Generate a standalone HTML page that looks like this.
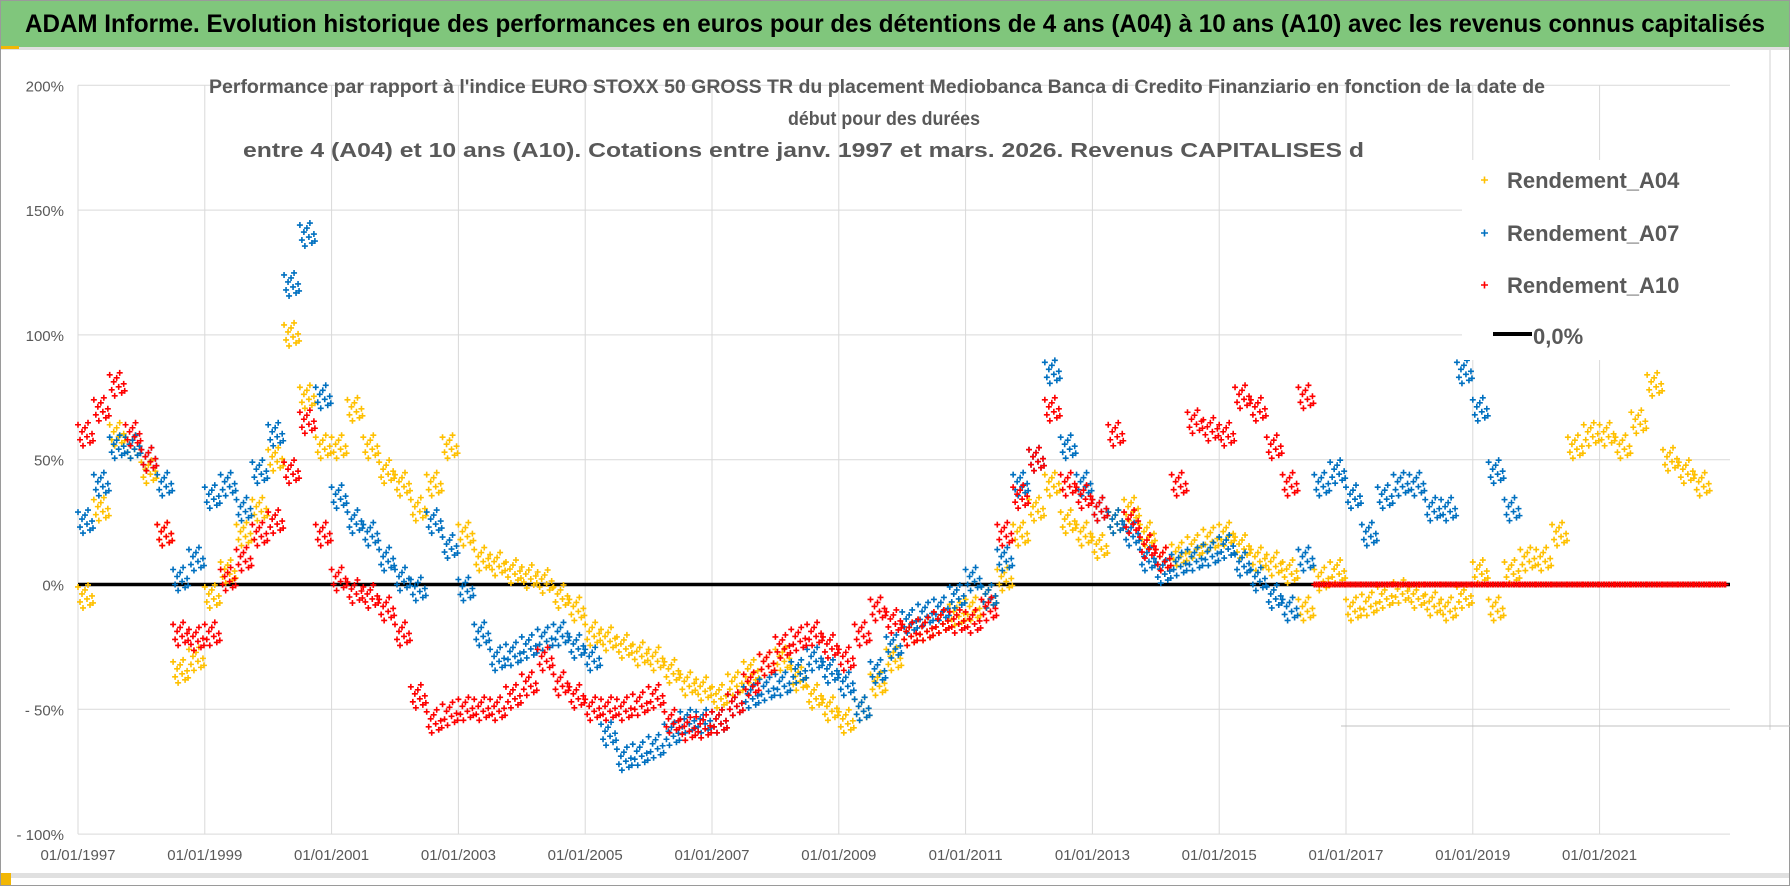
<!DOCTYPE html>
<html><head><meta charset="utf-8"><style>
html,body{margin:0;padding:0;background:#fff;width:1790px;height:886px;overflow:hidden}
svg{display:block;font-family:"Liberation Sans",sans-serif}
</style></head><body>
<svg id="chart" width="1790" height="886" viewBox="0 0 1790 886">
<rect x="0" y="0" width="1790" height="886" fill="#fff"/>
<rect x="0.5" y="0.5" width="1789" height="885" fill="none" stroke="#9a9a9a"/>
<rect x="1" y="1" width="1788" height="46" fill="#80c67c"/>
<rect x="1" y="47" width="1788" height="3" fill="#e0e0e0"/>
<rect x="1" y="46" width="18" height="3" fill="#f2b705"/>
<text x="25" y="32" font-size="25" font-weight="bold" fill="#000" textLength="1740" lengthAdjust="spacingAndGlyphs">ADAM Informe. Evolution historique des performances en euros pour des détentions de 4 ans (A04) à 10 ans (A10) avec les revenus connus capitalisés</text>
<g id="grid"></g>
<line x1="1770" y1="50" x2="1770" y2="730" stroke="#d0d0d0"/>
<line x1="1341" y1="726" x2="1790" y2="726" stroke="#c0c0c0"/>
<g id="yaxis"></g>
<g id="xaxis"></g>
<line id="zero" stroke="#000" stroke-width="3.5"/>
<g id="marks"></g>
<g font-size="19" font-weight="bold" fill="#595959">
<text x="209" y="93" textLength="1336" lengthAdjust="spacingAndGlyphs">Performance par rapport à l'indice EURO STOXX 50 GROSS TR  du placement Mediobanca Banca di Credito Finanziario en fonction de la date de</text>
<text x="788" y="125" textLength="192" lengthAdjust="spacingAndGlyphs">début pour des durées</text>
<text x="243" y="157" font-size="20" textLength="1121" lengthAdjust="spacingAndGlyphs">entre 4 (A04) et 10 ans (A10).  Cotations entre janv. 1997 et mars. 2026. Revenus CAPITALISES d</text>
</g>
<g>
<rect x="1462" y="160" width="300" height="200" fill="#fff"/>
<g><path d="M1481 180h7M1484.5 176.5v7" stroke="#ffc000" stroke-width="1.6"/><text x="1507" y="188" font-size="22" font-weight="bold" fill="#595959">Rendement_A04</text></g>
<g><path d="M1481 233h7M1484.5 229.5v7" stroke="#0070c0" stroke-width="1.6"/><text x="1507" y="241" font-size="22" font-weight="bold" fill="#595959">Rendement_A07</text></g>
<g><path d="M1481 285h7M1484.5 281.5v7" stroke="#ff0000" stroke-width="1.6"/><text x="1507" y="293" font-size="22" font-weight="bold" fill="#595959">Rendement_A10</text></g>
<g><line x1="1493" y1="334" x2="1532" y2="334" stroke="#000" stroke-width="4"/><text x="1533" y="344" font-size="22" font-weight="bold" fill="#595959">0,0%</text></g>
</g>
<rect x="1" y="873" width="1788" height="5" fill="#e0e0e0"/>
<rect x="1" y="873" width="10" height="12" fill="#f2b705"/>
</svg>
<script>
const yTicks=[200,150,100,50,0,-50,-100];
const yTickLabels=["200%","150%","100%","50%","0%","- 50%","- 100%"];
const xTickYears=[1997,1999,2001,2003,2005,2007,2009,2011,2013,2015,2017,2019,2021];
const xTickLabels=["01/01/1997","01/01/1999","01/01/2001","01/01/2003","01/01/2005","01/01/2007","01/01/2009","01/01/2011","01/01/2013","01/01/2015","01/01/2017","01/01/2019","01/01/2021"];
const startYear=1997;
const quarterStep=0.25;
const a04Values=[-5,30,60,55, 45,20,-35,-30, -5,5,20,30, 50,100,75,55, 55,70,55,45, 40,30,40,55, 20,10,8,5, 3,1,-5,-10, -20,-22,-25,-28, -30,-35,-40,-42, -45,-40,-35,-32, -30,-38,-45,-50, -55,-50,-40,-30, -20,-18,-15,-12, -10,-5,2,20, 30,40,25,20, 15,25,30,20, 10,12,15,18, 20,15,10,8, 5,-10,2,5, -10,-8,-5,-3, -5,-8,-10,-5, 5,-10,5,10, 10,20,55,60, 60,55,65,80, 50,45,40];
const a07Values=[25,40,55,55, 50,40,2,10, 35,40,30,45, 60,120,140,75, 35,25,20,10, 2,-2,25,15, -2,-20,-30,-28, -25,-22,-20,-25, -30,-60,-70,-68, -65,-60,-55,-55, -55,-48,-45,-42, -40,-35,-30,-35, -40,-50,-35,-25, -15,-12,-10,-5, 2,-5,10,40, 50,85,55,40, 30,25,20,10, 5,8,10,12, 15,8,2,-5, -10,10,40,45, 35,20,35,40, 40,30,30,85, 70,45,30];
const a10Values=[60,70,80,60, 50,20,-20,-22, -20,2,10,20, 25,45,65,20, 2,-3,-5,-10, -20,-45,-55,-52, -50,-50,-50,-45, -40,-30,-40,-45, -50,-50,-50,-48, -45,-55,-58,-57, -55,-48,-40,-32, -25,-22,-20,-25, -30,-20,-10,-15, -20,-18,-15,-15, -15,-10,20,35, 50,70,40,35, 30,60,25,15, 10,40,65,62, 60,75,70,55, 40,75,0,0, 0,0,0,0, 0,0,0,0, 0,0,0,0, 0,0,0,0, 0,0,0,0, 0,0,0,0];
const NS="http://www.w3.org/2000/svg";
const X0=78,PXY=63.4,Y0=584.5,PXV=2.496,PLOT_L=78,PLOT_R=1730;
function xs(yr){return X0+(yr-1997)*PXY;}
function ys(v){return Y0-v*PXV;}
const grid=document.getElementById('grid');
yTicks.forEach((t,i)=>{
 const l=document.createElementNS(NS,'line');
 l.setAttribute('x1',PLOT_L);l.setAttribute('x2',PLOT_R);l.setAttribute('y1',ys(t));l.setAttribute('y2',ys(t));
 l.setAttribute('stroke','#d9d9d9');
 
 
 grid.appendChild(l);
 const tx=document.createElementNS(NS,'text');
 tx.setAttribute('x',64);tx.setAttribute('y',ys(t)+6);tx.setAttribute('text-anchor','end');
 tx.setAttribute('font-size','15');tx.setAttribute('fill','#595959');tx.textContent=yTickLabels[i];
 
 
 document.getElementById('yaxis').appendChild(tx);
});
xTickYears.forEach((yr,i)=>{
 const l=document.createElementNS(NS,'line');
 l.setAttribute('x1',xs(yr));l.setAttribute('x2',xs(yr));l.setAttribute('y1',ys(200));l.setAttribute('y2',ys(-100));
 l.setAttribute('stroke','#d9d9d9');
 
 
 grid.appendChild(l);
 const tx=document.createElementNS(NS,'text');
 tx.setAttribute('x',xs(yr));tx.setAttribute('y',860);tx.setAttribute('text-anchor','middle');
 tx.setAttribute('font-size','15');tx.setAttribute('fill','#595959');tx.textContent=xTickLabels[i];
 
 
 document.getElementById('xaxis').appendChild(tx);
});
const z=document.getElementById('zero');
z.setAttribute('x1',PLOT_L);z.setAttribute('x2',PLOT_R);z.setAttribute('y1',ys(0));z.setAttribute('y2',ys(0));
const dx=[0,2,4,5,7,9,10,12,14,15];
const dy=[-10,5,-3,11,-7,2,-12,8,-1,6];
function drawSeries(vals,color,name,flatZero){
 const g=document.createElementNS(NS,'g');
 
 
 vals.forEach((v,i)=>{
  const cx=xs(startYear+i*quarterStep),cy=ys(v);
  const flat=flatZero&&v===0;
  let d='';
  for(let k=0;k<dx.length;k++){
   const px=cx+dx[k],py=cy+(flat?0:dy[k]);
   d+=`M${px-3} ${py}h6M${px} ${py-3}v6`;
  }
  const p=document.createElementNS(NS,'path');
  p.setAttribute('d',d);p.setAttribute('stroke',color);p.setAttribute('stroke-width','1.6');p.setAttribute('fill','none');
  
  
  g.appendChild(p);
 });
 document.getElementById('marks').appendChild(g);
}
drawSeries(a04Values,'#ffc000','series-a04',false);
drawSeries(a07Values,'#0070c0','series-a07',false);
drawSeries(a10Values,'#ff0000','series-a10',true);
</script>
</body></html>
